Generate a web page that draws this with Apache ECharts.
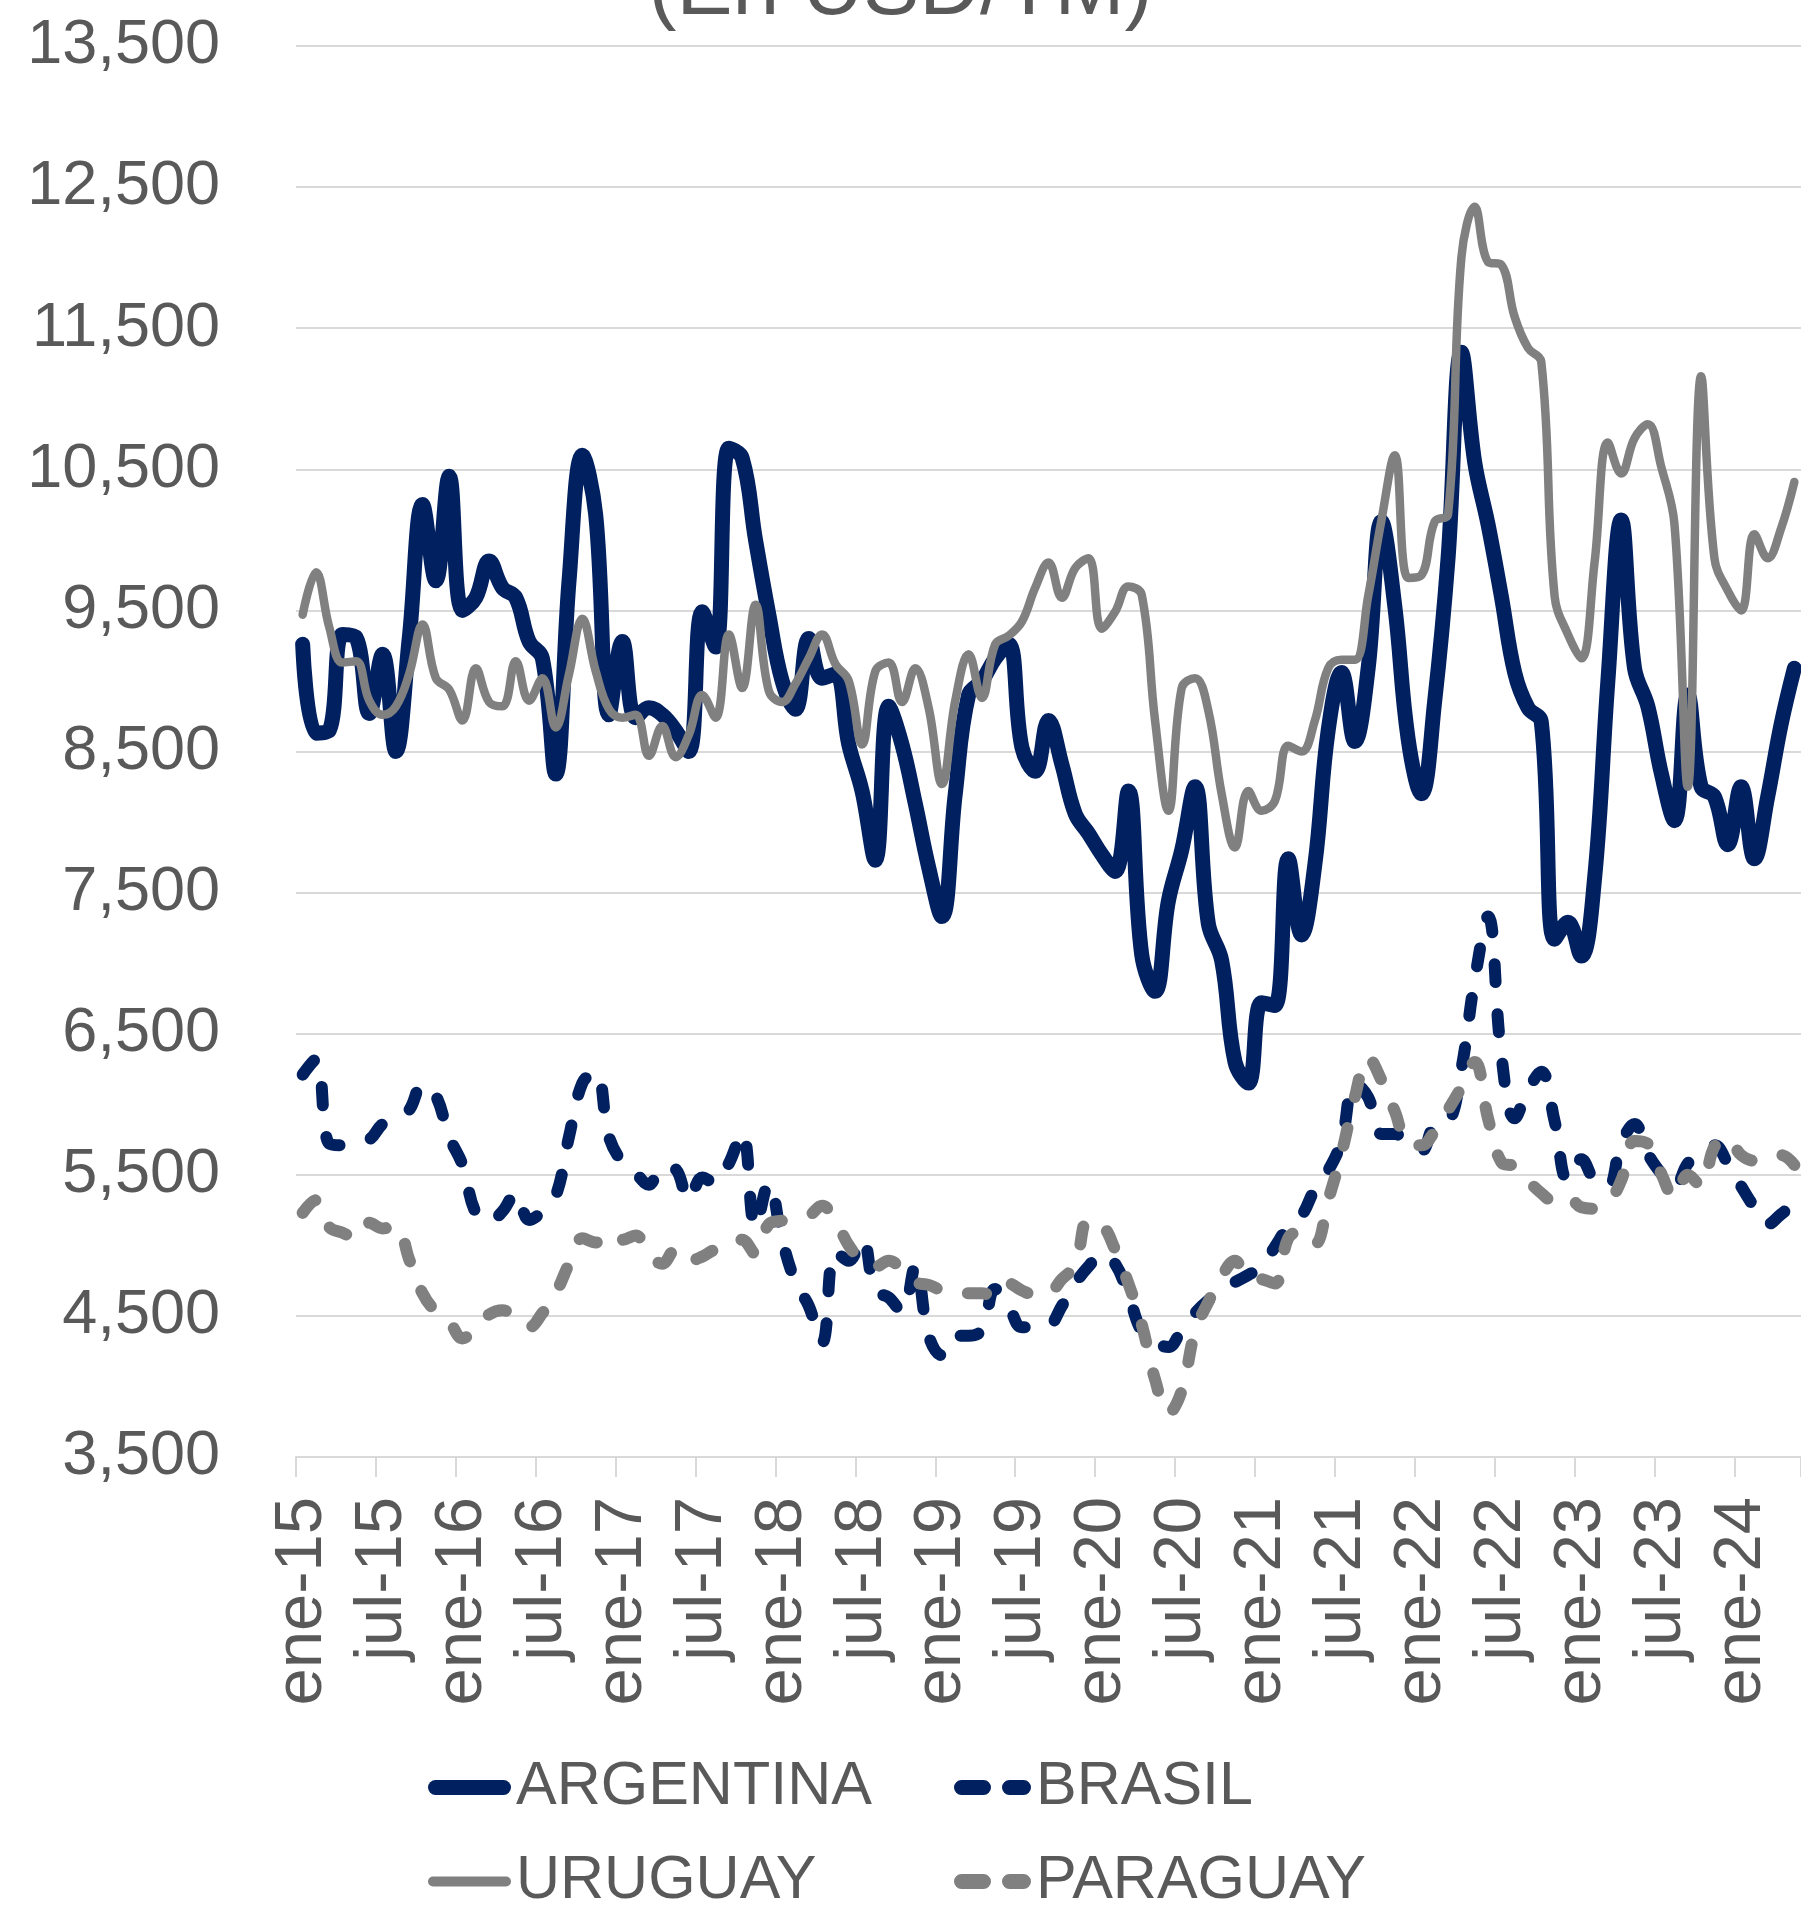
<!DOCTYPE html>
<html>
<head>
<meta charset="utf-8">
<title>Precios (En USD/TM)</title>
<script src="https://cdn.jsdelivr.net/npm/echarts@6/dist/echarts.min.js"></script>
<style>
  html, body { margin: 0; padding: 0; background: #fff; }
  #chart { width: 1801px; height: 1907px; }
</style>
</head>
<body>
<div id="chart"></div>
<script>
// eje X: meses desde ene-15
const MESES = ['ene', 'feb', 'mar', 'abr', 'may', 'jun', 'jul', 'ago', 'sep', 'oct', 'nov', 'dic']
const ANIO_INICIO = 15
const N_MESES = 113

// eje Y
const Y_MIN = 3500
const Y_MAX = 13500
const Y_PASO = 1000

// series (USD/TM), una por mes
const argentina = [
  9260, 8630, 8650, 9330, 9310, 8770, 9190, 8500, 9300, 10250,
  9710, 10450, 9500, 9590, 9850, 9660, 9590, 9280, 9160, 8340,
  9710, 10600, 10180, 8760, 9280, 8740, 8810, 8760, 8650, 8500,
  9490, 9240, 10650, 10580, 10000, 9470, 9000, 8800, 9300, 9020,
  9050, 8550, 8220, 7730, 8820, 8550, 8130, 7680, 7330, 8200,
  8900, 9000, 9160, 9260, 8530, 8360, 8720, 8410, 8060, 7920,
  7770, 7650, 8220, 7060, 6800, 7440, 7800, 8250, 7280, 7020,
  6300, 6150, 6720, 6700, 7740, 7200, 7700, 8650, 9060, 8570,
  9090, 10130, 9530, 8590, 8200, 8860, 9870, 11330, 10550, 10110,
  9600, 9060, 8810, 8710, 7170, 7290, 7050, 7600, 9000, 10140,
  9090, 8820, 8350, 8010, 8900, 8250, 8180, 7840, 8250, 7740,
  8180, 8690, 9090
]
const brasil = [
  6210, 6320, 5720, 5710, 5730, 5750, 5860, 5900, 5960, 6140,
  6060, 5770, 5570, 5230, 5170, 5240, 5370, 5180, 5240, 5350,
  5770, 6150, 6230, 5770, 5590, 5510, 5430, 5560, 5540, 5320,
  5480, 5440, 5580, 5800, 5130, 5440, 5040, 4740, 4570, 4310,
  4960, 4890, 5050, 4680, 4630, 4530, 4850, 4360, 4220, 4360,
  4360, 4400, 4690, 4570, 4420, 4420, 4430, 4570, 4730, 4850,
  4940, 4870, 4650, 4390, 4310, 4280, 4400, 4520, 4610, 4680,
  4740, 4790, 4850, 4990, 5130, 5210, 5400, 5530, 5740, 6150,
  6050, 5790, 5790, 5720, 5670, 5850, 5870, 6250, 6880, 7330,
  6350, 5900, 6100, 6230, 5880, 5460, 5610, 5460, 5420, 5720,
  5860, 5650, 5510, 5410, 5580, 5650, 5710, 5580, 5420, 5270,
  5150, 5220, 5300
]
const uruguay = [
  9470, 9770, 9380, 9130, 9140, 8860, 8760, 8820, 9050, 9400,
  9020, 8940, 8720, 9090, 8850, 8820, 9140, 8860, 9020, 8670,
  9050, 9440, 9070, 8800, 8740, 8760, 8470, 8680, 8460, 8620,
  8900, 8740, 9330, 8950, 9540, 8930, 8850, 8980, 9160, 9330,
  9120, 9000, 8550, 9070, 9130, 8850, 9090, 8810, 8270, 8860,
  9190, 8880, 9260, 9320, 9420, 9660, 9840, 9590, 9800, 9870,
  9370, 9490, 9670, 9610, 8720, 8080, 8950, 9020, 8790, 8200,
  7820, 8220, 8080, 8150, 8540, 8500, 8720, 9090, 9150, 9150,
  9600, 10140, 10600, 9730, 9750, 10130, 10180, 12000, 12360, 11970,
  11950, 11580, 11360, 11260, 9600, 9330, 9160, 9840, 10690, 10470,
  10720, 10820, 10520, 10110, 8250, 11160, 9870, 9640, 9500, 10040,
  9870, 10080, 10410
]
const paraguay = [
  5230, 5320, 5130, 5090, 5050, 5160, 5120, 5140, 4900, 4660,
  4530, 4460, 4340, 4420, 4510, 4540, 4490, 4420, 4520, 4660,
  4870, 5050, 5020, 5090, 5040, 5070, 4940, 4870, 4970, 4890,
  4920, 4970, 4980, 5040, 4940, 5150, 5175, 5190, 5210, 5280,
  5175, 5000, 4890, 4850, 4890, 4830, 4740, 4720, 4680, 4660,
  4660, 4660, 4640, 4730, 4680, 4650, 4660, 4760, 4860, 5180,
  5150, 4970, 4730, 4440, 4050, 3810, 3970, 4390, 4600, 4780,
  4890, 4770, 4760, 4730, 5050, 5100, 5010, 5320, 5650, 6050,
  6330, 6170, 5950, 5720, 5710, 5810, 5960, 6120, 6300, 5900,
  5590, 5560, 5460, 5370, 5310, 5340, 5270, 5260, 5300, 5460,
  5740, 5720, 5510, 5340, 5500, 5420, 5700, 5760, 5640, 5600,
  5600, 5640, 5570
]

const categorias = []
for (let i = 0; i < N_MESES; i++) {
  categorias.push(MESES[i % 12] + '-' + (ANIO_INICIO + Math.floor(i / 12)))
}

const AZUL = '#002060'
const GRIS = '#808080'
const TEXTO = '#595959'
const LINEA_GRILLA = '#d9d9d9'
const FUENTE = "'Liberation Sans', Arial, sans-serif"
const GUIONES = [18, 32]

// iconos de leyenda (linea llena / dos guiones)
const ICONO_GRUESO = 'path://M7.5,0 L75.5,0 A7.5,7.5 0 0 1 75.5,15 L7.5,15 A7.5,7.5 0 0 1 7.5,0 Z'
const ICONO_FINO = 'path://M5,0 L78,0 A5,5 0 0 1 78,10 L5,10 A5,5 0 0 1 5,0 Z'
const ICONO_GUION = 'path://M7.5,0 L29.5,0 A7.5,7.5 0 0 1 29.5,15 L7.5,15 A7.5,7.5 0 0 1 7.5,0 Z ' +
  'M55.5,0 L69.5,0 A7.5,7.5 0 0 1 69.5,15 L55.5,15 A7.5,7.5 0 0 1 55.5,0 Z'

function miles(v) {
  return String(v).replace(/\B(?=(\d{3})+(?!\d))/g, ',')
}

function serie(nombre, datos, color, ancho, tipo) {
  return {
    name: nombre,
    type: 'line',
    data: datos,
    smooth: 0.4,
    showSymbol: false,
    symbol: 'none',
    itemStyle: { color: color },
    lineStyle: { color: color, width: ancho, type: tipo, cap: 'round', join: 'round' }
  }
}

function leyenda(nombre, x, y, icono, ancho, alto, color) {
  return {
    data: [nombre],
    left: x,
    top: y,
    padding: 0,
    icon: icono,
    itemWidth: ancho,
    itemHeight: alto,
    itemStyle: { color: color, borderWidth: 0 },
    selectedMode: false,
    textStyle: { color: TEXTO, fontSize: 61, fontFamily: FUENTE }
  }
}

const chart = echarts.init(document.getElementById('chart'))
chart.setOption({
  animation: false,
  backgroundColor: '#ffffff',
  title: {
    text: '(En USD/TM)',
    left: 'center',
    top: -56,
    textStyle: { color: TEXTO, fontSize: 84, fontWeight: 'normal', fontFamily: FUENTE }
  },
  grid: {
    left: 296,
    right: -9,
    top: 46,
    bottom: 450,
    containLabel: false
  },
  legend: [
    leyenda('ARGENTINA', 428, 1757, ICONO_GRUESO, 83, 15, AZUL),
    leyenda('BRASIL', 954, 1757, ICONO_GUION, 77, 15, AZUL),
    leyenda('URUGUAY', 428, 1851, ICONO_FINO, 83, 10, GRIS),
    leyenda('PARAGUAY', 954, 1851, ICONO_GUION, 77, 15, GRIS)
  ],
  xAxis: {
    type: 'category',
    data: categorias,
    boundaryGap: true,
    axisLine: { lineStyle: { color: LINEA_GRILLA, width: 2 } },
    axisTick: { show: true, interval: 5, length: 20, lineStyle: { color: LINEA_GRILLA, width: 2 } },
    axisLabel: {
      interval: 5,
      rotate: 90,
      margin: 40,
      color: TEXTO,
      fontSize: 67,
      fontFamily: FUENTE
    },
    splitLine: { show: false }
  },
  yAxis: {
    type: 'value',
    min: Y_MIN,
    max: Y_MAX,
    interval: Y_PASO,
    axisLine: { show: false },
    axisTick: { show: false },
    splitLine: { lineStyle: { color: LINEA_GRILLA, width: 2 } },
    axisLabel: {
      margin: 76,
      color: TEXTO,
      fontSize: 63,
      fontFamily: FUENTE,
      formatter: miles
    }
  },
  series: [
    serie('ARGENTINA', argentina, AZUL, 15, 'solid'),
    serie('BRASIL', brasil, AZUL, 12, GUIONES),
    serie('URUGUAY', uruguay, GRIS, 8.5, 'solid'),
    serie('PARAGUAY', paraguay, GRIS, 12, GUIONES)
  ]
})
</script>
</body>
</html>
